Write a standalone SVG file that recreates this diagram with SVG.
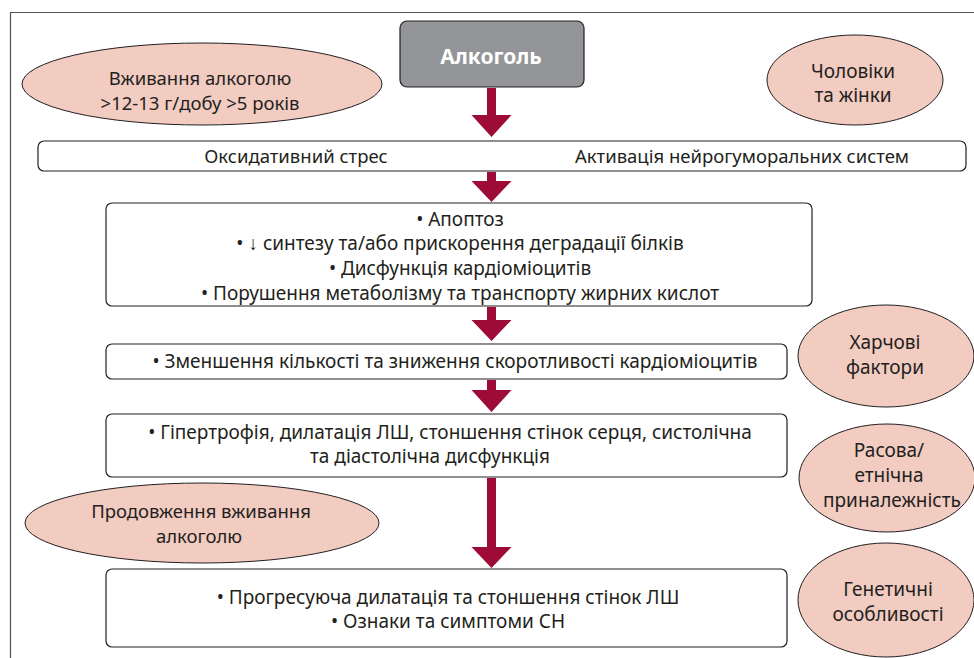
<svg xmlns="http://www.w3.org/2000/svg" width="974" height="658" viewBox="0 0 974 658">
<style>
text{font-family:"Noto Sans","Liberation Sans",sans-serif;font-size:19px;fill:#231f20;text-anchor:middle}
.bar{font-size:18.5px}
.lo{font-size:18.5px}
.ro{font-size:19px}
.box{fill:#fff;stroke:#231f20;stroke-width:1.2}
.oval{fill:#f2cbc1;stroke:#231f20;stroke-width:1}
.arr{fill:#9d0b36}
.w{fill:#fff;font-weight:bold;font-size:21px}
</style>
<rect width="974" height="658" fill="#fff"/>
<path d="M10.5,658 V12.5 H974" fill="none" stroke="#555" stroke-width="1.2"/>
<g id="connectors">
<path class="arr" d="M487,88 H496 V115 H511.5 L491.5,137 L471.5,115 H487 Z"/>
<path class="arr" d="M487,172 H496 V181 H511.5 L491.5,202 L471.5,181 H487 Z"/>
<path class="arr" d="M487,307 H496 V320 H511.5 L491.5,341 L471.5,320 H487 Z"/>
<path class="arr" d="M487,380 H496 V390 H511.5 L491.5,412 L471.5,390 H487 Z"/>
<path class="arr" d="M487,478 H496 V547 H511.5 L491.5,568 L471.5,547 H487 Z"/>
</g>
<g id="alcohol">
<rect x="400" y="21" width="184" height="66" rx="7" fill="#939598" stroke="#231f20" stroke-width="1.2"/>
<text class="w" x="491" y="64">Алкоголь</text>
</g>
<g id="intake">
<ellipse class="oval" cx="202" cy="84" rx="180" ry="41"/>
<text class="lo" x="200" y="85">Вживання алкоголю</text>
<text class="lo" x="200" y="110">&gt;12-13 г/добу &gt;5 років</text>
</g>
<g id="sex">
<ellipse class="oval" cx="855" cy="80" rx="88" ry="45"/>
<text class="ro" x="853" y="78">Чоловіки</text>
<text class="ro" x="853" y="102">та жінки</text>
</g>
<g id="bar1">
<rect class="box" x="38" y="141" width="928" height="30" rx="6"/>
<text class="bar" x="296" y="163">Оксидативний стрес</text>
<text class="bar" x="742" y="163">Активація нейрогуморальних систем</text>
</g>
<g id="cellular">
<rect class="box" x="106" y="203" width="706" height="103" rx="6"/>
<text x="460" y="226">• Апоптоз</text>
<text x="460" y="250">• ↓ синтезу та/або прискорення деградації білків</text>
<text x="460" y="274.5">• Дисфункція кардіоміоцитів</text>
<text x="460" y="300">• Порушення метаболізму та транспорту жирних кислот</text>
</g>
<g id="reduction">
<rect class="box" x="106" y="344" width="681" height="35" rx="6"/>
<text x="455" y="368">• Зменшення кількості та зниження скоротливості кардіоміоцитів</text>
</g>
<g id="hypertrophy">
<rect class="box" x="106" y="414" width="681" height="63" rx="6"/>
<text x="450" y="439">• Гіпертрофія, дилатація ЛШ, стоншення стінок серця, систолічна</text>
<text x="430" y="463">та діастолічна дисфункція</text>
</g>
<g id="continued">
<ellipse class="oval" cx="202" cy="523" rx="177" ry="40"/>
<text class="lo" x="201" y="518">Продовження вживання</text>
<text class="lo" x="199" y="543">алкоголю</text>
</g>
<g id="progression">
<rect class="box" x="106" y="569" width="681" height="78" rx="6"/>
<text x="448" y="604">• Прогресуюча дилатація та стоншення стінок ЛШ</text>
<text x="448" y="628">• Ознаки та симптоми СН</text>
</g>
<g id="diet">
<ellipse class="oval" cx="886" cy="356" rx="88" ry="51"/>
<text class="ro" x="885" y="349">Харчові</text>
<text class="ro" x="885" y="374">фактори</text>
</g>
<g id="race">
<ellipse class="oval" cx="887" cy="478" rx="88" ry="54"/>
<text class="ro" x="889" y="457">Расова/</text>
<text class="ro" x="889" y="482">етнічна</text>
<text class="ro" x="892" y="507">приналежність</text>
</g>
<g id="genetic">
<ellipse class="oval" cx="886" cy="600" rx="88" ry="57"/>
<text class="ro" x="888" y="596">Генетичні</text>
<text class="ro" x="888" y="621">особливості</text>
</g>
</svg>
